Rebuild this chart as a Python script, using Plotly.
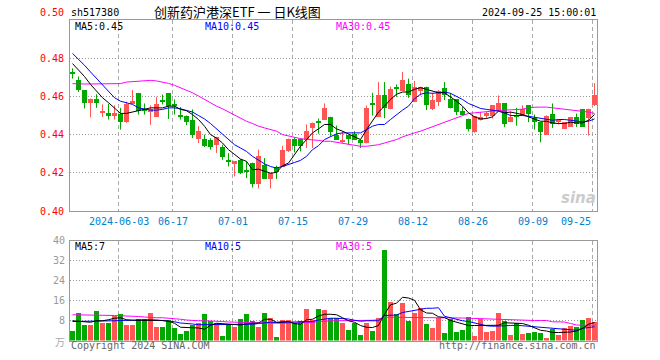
import plotly.graph_objects as go

W, H = 660, 360

# ---------------- data ----------------
opens = [0.4727,0.4684,0.4632,0.4565,0.4586,0.4516,0.4511,0.4500,0.4509,0.4465,
         0.4565,0.4616,0.4535,0.4519,0.4493,0.4578,0.4616,0.4556,0.4498,0.4496,
         0.4474,0.4379,0.4379,0.4374,0.4347,0.4333,0.4268,0.4246,0.4268,0.4209,
         0.4253,0.4140,0.4242,0.4170,0.4230,0.4230,0.4312,0.4379,0.4379,0.4374,
         0.4432,0.4465,0.4477,0.4493,0.4400,0.4365,0.4400,0.4404,0.4374,0.4354,
         0.4563,0.4493,0.4605,0.4532,0.4642,0.4628,0.4663,0.4570,0.4628,0.4651,
         0.4532,0.4572,0.4642,0.4584,0.4584,0.4523,0.4484,0.4414,0.4474,0.4496,
         0.4500,0.4526,0.4563,0.4465,0.4505,0.4500,0.4553,0.4488,0.4465,0.4400,
         0.4510,0.4465,0.4430,0.4440,0.4493,0.4532,0.4488,0.4553]
highs = [0.4747,0.4704,0.4634,0.4588,0.4611,0.4558,0.4561,0.4553,0.4540,0.4572,
         0.4633,0.4618,0.4563,0.4553,0.4598,0.4610,0.4618,0.4584,0.4544,0.4500,
         0.4532,0.4444,0.4400,0.4381,0.4388,0.4347,0.4303,0.4260,0.4272,0.4260,
         0.4253,0.4321,0.4277,0.4198,0.4237,0.4342,0.4379,0.4386,0.4379,0.4453,
         0.4463,0.4484,0.4563,0.4493,0.4447,0.4418,0.4400,0.4418,0.4374,0.4553,
         0.4619,0.4675,0.4675,0.4651,0.4663,0.4728,0.4693,0.4681,0.4651,0.4651,
         0.4619,0.4633,0.4675,0.4616,0.4584,0.4544,0.4484,0.4496,0.4519,0.4519,
         0.4554,0.4605,0.4563,0.4519,0.4540,0.4553,0.4553,0.4505,0.4465,0.4500,
         0.4563,0.4482,0.4465,0.4493,0.4510,0.4532,0.4535,0.4670]
lows = [0.4693,0.4623,0.4537,0.4491,0.4540,0.4493,0.4479,0.4479,0.4426,0.4461,
        0.4558,0.4505,0.4505,0.4451,0.4493,0.4558,0.4482,0.4505,0.4479,0.4449,
        0.4382,0.4356,0.4335,0.4321,0.4304,0.4268,0.4233,0.4181,0.4193,0.4172,
        0.4123,0.4118,0.4170,0.4118,0.4167,0.4230,0.4309,0.4307,0.4312,0.4330,
        0.4330,0.4405,0.4477,0.4391,0.4374,0.4356,0.4347,0.4374,0.4330,0.4354,
        0.4500,0.4493,0.4486,0.4532,0.4598,0.4628,0.4593,0.4570,0.4605,0.4528,
        0.4528,0.4549,0.4581,0.4537,0.4502,0.4502,0.4416,0.4410,0.4474,0.4484,
        0.4484,0.4526,0.4439,0.4465,0.4447,0.4500,0.4465,0.4426,0.4360,0.4400,
        0.4435,0.4453,0.4430,0.4440,0.4440,0.4440,0.4395,0.4549]
closes = [0.4722,0.4632,0.4565,0.4586,0.4565,0.4523,0.4502,0.4512,0.4465,0.4561,
          0.4575,0.4526,0.4525,0.4535,0.4561,0.4575,0.4549,0.4551,0.4496,0.4465,
          0.4400,0.4421,0.4342,0.4333,0.4388,0.4281,0.4254,0.4260,0.4198,0.4205,
          0.4140,0.4289,0.4170,0.4198,0.4202,0.4321,0.4379,0.4342,0.4342,0.4421,
          0.4463,0.4461,0.4540,0.4412,0.4374,0.4374,0.4379,0.4374,0.4354,0.4540,
          0.4558,0.4605,0.4540,0.4640,0.4640,0.4684,0.4605,0.4651,0.4651,0.4554,
          0.4581,0.4628,0.4605,0.4537,0.4519,0.4502,0.4430,0.4496,0.4493,0.4514,
          0.4554,0.4563,0.4453,0.4493,0.4493,0.4535,0.4510,0.4465,0.4412,0.4500,
          0.4453,0.4479,0.4465,0.4493,0.4453,0.4440,0.4535,0.4605]

ma5 = [0.4772,0.4739,0.4704,0.4663,0.4628,0.4593,0.4567,0.4540,0.4511,0.4511,
       0.4518,0.4525,0.4532,0.4540,0.4540,0.4540,0.4549,0.4549,0.4532,0.4525,
       0.4505,0.4479,0.4444,0.4400,0.4382,0.4356,0.4321,0.4295,0.4272,0.4260,
       0.4216,0.4219,0.4207,0.4198,0.4202,0.4237,0.4251,0.4295,0.4339,0.4374,
       0.4409,0.4430,0.4453,0.4453,0.4430,0.4418,0.4404,0.4388,0.4374,0.4426,
       0.4474,0.4518,0.4549,0.4584,0.4611,0.4623,0.4623,0.4637,0.4646,0.4637,
       0.4625,0.4619,0.4619,0.4598,0.4575,0.4549,0.4514,0.4493,0.4482,0.4484,
       0.4493,0.4523,0.4514,0.4518,0.4511,0.4505,0.4493,0.4482,0.4470,0.4470,
       0.4461,0.4458,0.4458,0.4465,0.4461,0.4461,0.4475,0.4505]
ma10 = [0.4825,0.4795,0.4763,0.4728,0.4693,0.4658,0.4623,0.4593,0.4575,0.4567,
        0.4558,0.4540,0.4532,0.4528,0.4528,0.4532,0.4540,0.4540,0.4535,0.4528,
        0.4518,0.4500,0.4482,0.4458,0.4430,0.4400,0.4374,0.4347,0.4330,0.4312,
        0.4286,0.4265,0.4247,0.4233,0.4225,0.4233,0.4242,0.4254,0.4265,0.4286,
        0.4321,0.4342,0.4374,0.4391,0.4404,0.4409,0.4409,0.4409,0.4409,0.4426,
        0.4444,0.4453,0.4453,0.4479,0.4505,0.4528,0.4549,0.4588,0.4611,0.4619,
        0.4616,0.4619,0.4623,0.4616,0.4602,0.4584,0.4563,0.4549,0.4537,0.4532,
        0.4528,0.4523,0.4514,0.4500,0.4500,0.4500,0.4496,0.4491,0.4484,0.4479,
        0.4475,0.4479,0.4479,0.4475,0.4470,0.4467,0.4470,0.4482]
ma30 = [0.4667,0.4665,0.4665,0.4665,0.4665,0.4665,0.4665,0.4665,0.4667,0.4675,
        0.4678,0.4681,0.4684,0.4684,0.4681,0.4675,0.4668,0.4658,0.4646,0.4633,
        0.4619,0.4602,0.4584,0.4567,0.4549,0.4535,0.4518,0.4500,0.4484,0.4470,
        0.4458,0.4444,0.4435,0.4426,0.4418,0.4400,0.4391,0.4386,0.4379,0.4374,
        0.4372,0.4370,0.4365,0.4365,0.4360,0.4356,0.4351,0.4346,0.4339,0.4339,
        0.4342,0.4347,0.4356,0.4365,0.4374,0.4388,0.4400,0.4409,0.4418,0.4430,
        0.4440,0.4453,0.4465,0.4479,0.4491,0.4502,0.4511,0.4514,0.4518,0.4521,
        0.4523,0.4526,0.4528,0.4530,0.4530,0.4533,0.4542,0.4544,0.4544,0.4544,
        0.4540,0.4537,0.4535,0.4532,0.4528,0.4523,0.4518,0.4511]

volume = [3.9,11.1,6.3,6.5,11.9,7.1,7.1,9.9,10.7,6.3,
          6.3,8.7,8.9,11.1,5.5,5.7,8.4,5.1,2.8,4.1,
          6.4,7.2,10.9,8.1,7.2,2.1,7.0,5.5,8.8,10.7,
          7.9,5.5,11.1,9.1,1.6,8.3,8.3,7.3,7.9,12.7,
          8.3,12.7,12.3,9.1,9.1,7.1,4.3,7.1,2.3,7.1,
          3.9,9.1,36.3,15.5,10.7,15.1,7.9,11.1,13.1,6.7,
          5.1,9.1,3.1,8.7,3.5,4.3,9.5,1.9,8.8,3.7,
          4.1,11.3,8.1,2.5,7.2,2.9,3.3,3.7,3.3,1.3,
          4.8,2.5,5.3,6.0,5.7,8.5,9.1,7.5]
vma5 = [7.9,7.6,7.4,7.3,7.9,7.9,8.3,8.9,9.1,8.3,
        8.1,8.1,8.1,8.3,8.1,8.0,7.7,6.9,5.3,5.2,
        5.4,5.0,4.5,6.1,6.9,6.7,6.8,6.3,6.2,6.7,
        6.8,7.0,8.5,8.5,7.3,7.6,7.6,6.8,6.5,8.3,
        8.5,9.8,10.5,10.5,10.3,9.1,7.9,7.3,6.0,5.3,
        5.2,6.0,10.5,14.3,14.9,17.3,17.0,16.1,12.3,11.0,
        10.9,9.5,9.2,8.0,7.3,6.7,6.0,6.0,6.0,6.0,
        6.0,6.1,7.1,7.1,7.0,6.8,6.1,5.2,4.1,3.8,
        3.2,3.2,3.2,3.4,3.8,4.8,6.5,7.2]
vma10 = [7.6,7.6,7.7,7.7,7.8,7.9,7.9,7.9,8.0,8.1,
         8.2,8.3,8.3,8.3,8.2,8.0,7.9,7.5,7.0,6.9,
         6.6,6.3,6.3,6.3,6.3,6.2,6.2,6.3,6.4,6.4,
         6.5,6.8,7.1,7.3,7.2,7.3,7.3,7.4,7.5,7.6,
         7.6,8.2,8.6,8.9,8.9,8.9,8.6,8.1,7.7,7.9,
         7.8,7.9,10.0,10.0,10.2,11.2,11.7,11.9,12.6,12.9,
         12.9,13.1,9.7,9.1,8.3,7.9,7.6,7.0,6.2,5.9,
         5.7,5.7,5.7,6.0,6.1,5.9,5.5,5.3,5.0,4.8,
         4.8,4.6,4.2,4.1,4.1,4.9,5.2,5.5]
vma30 = [10.3,10.3,10.2,10.2,10.2,10.1,10.1,10.0,9.9,9.9,
         9.9,9.6,9.4,9.1,9.1,9.1,9.0,8.8,8.5,8.2,
         7.9,7.9,7.9,7.9,7.8,7.6,7.4,7.3,7.3,7.3,
         7.2,7.0,6.9,6.9,6.9,6.9,6.9,6.9,6.9,6.9,
         7.2,7.6,7.9,7.9,7.9,7.9,7.9,7.9,7.9,7.9,
         8.1,8.3,9.3,9.3,9.3,9.3,9.3,9.3,9.3,9.3,
         9.3,9.3,9.2,9.2,9.1,9.0,8.9,8.8,8.7,8.7,
         8.6,8.4,8.4,8.2,8.0,8.0,8.0,8.0,8.0,8.0,
         7.5,7.5,7.4,6.8,6.2,6.1,6.1,6.1]

date_tick_labels = ["2024-06-03", "06-17", "07-01", "07-15", "07-29",
                    "08-12", "08-26", "09-09", "09-25"]
date_tick_index = [8, 17, 27, 37, 47, 57, 67, 77, 87]
price_ticks = [0.40, 0.42, 0.44, 0.46, 0.48, 0.50]
volume_ticks = [8, 16, 24, 32, 40]

symbol = "sh517380"
title = "创新药沪港深ETF 一 日K线图"
timestamp = "2024-09-25 15:00:01"
price_ma_labels = ["MA5:0.45", "MA10:0.45", "MA30:0.45"]
volume_ma_labels = ["MA5:7", "MA10:5", "MA30:5"]

# ---------------- styling ----------------
RED = "#ff5555"
GREEN = "#00a800"
MONO = "DejaVu Sans Mono, Liberation Mono, monospace"
GRIDC = "#aaaaaa"
FRAMEC = "#999999"

n = len(closes)
xs = list(range(n))
up = [c >= o for o, c in zip(opens, closes)]
cols = [RED if u else GREEN for u in up]

fig = go.Figure()

# wicks
for color, flag in ((RED, True), (GREEN, False)):
    wx, wy = [], []
    for i in xs:
        if up[i] == flag:
            wx += [i, i, None]
            wy += [lows[i], highs[i], None]
    fig.add_trace(go.Scatter(x=wx, y=wy, mode="lines", line=dict(color=color, width=1),
                             hoverinfo="skip", xaxis="x", yaxis="y"))

# bodies
body_base = [min(o, c) for o, c in zip(opens, closes)]
body_h = [max(abs(c - o), 0.0005) for o, c in zip(opens, closes)]
fig.add_trace(go.Bar(x=xs, y=body_h, base=body_base, width=0.8,
                     marker=dict(color=cols, line=dict(width=0)), xaxis="x", yaxis="y"))

# price MAs
for arr, c in ((ma30, "#ff00ff"), (ma10, "#0000ff"), (ma5, "#000000")):
    fig.add_trace(go.Scatter(x=xs, y=arr, mode="lines", line=dict(color=c, width=1),
                             xaxis="x", yaxis="y"))

# volume
fig.add_trace(go.Bar(x=xs, y=volume, width=0.8, marker=dict(color=cols, line=dict(width=0)),
                     xaxis="x2", yaxis="y2"))
for arr, c in ((vma30, "#ff00ff"), (vma10, "#0000ff"), (vma5, "#000000")):
    fig.add_trace(go.Scatter(x=xs, y=arr, mode="lines", line=dict(color=c, width=1),
                             xaxis="x2", yaxis="y2"))

# ---------------- layout ----------------
PL, PR = 70, 597
x0 = -2.5 / 6
xrange = [x0, x0 + (PR - PL) / 6]
grid_x = [i - 1 / 3 for i in date_tick_index]

def px(x):
    return x / W

def py(y):
    return 1 - y / H

xcommon = dict(range=xrange, domain=[px(PL), px(PR)], tickvals=grid_x, showticklabels=False,
               showgrid=True, gridcolor=GRIDC, griddash="4px,3px", gridwidth=1,
               showline=True, mirror=True, linecolor=FRAMEC, linewidth=1, zeroline=False,
               ticks="", fixedrange=True)
fig.update_layout(
    width=W, height=H, margin=dict(l=0, r=0, t=0, b=0),
    paper_bgcolor="white", plot_bgcolor="white", showlegend=False,
    barmode="overlay", bargap=0,
    xaxis=dict(anchor="y", **xcommon),
    xaxis2=dict(anchor="y2", **xcommon),
    yaxis=dict(domain=[py(211), py(20)], range=[0.40, 0.50], tickvals=price_ticks[1:-1],
               showticklabels=False, showgrid=True, gridcolor="#999999", griddash="1px,2px",
               showline=True, mirror=True, linecolor=FRAMEC, linewidth=1, zeroline=False,
               ticks="", fixedrange=True),
    yaxis2=dict(domain=[py(340.5), py(240.5)], range=[0, 40], tickvals=volume_ticks[:-1],
                showticklabels=False, showgrid=True, gridcolor="#999999", griddash="1px,2px",
                showline=True, mirror=True, linecolor=FRAMEC, linewidth=1, zeroline=False,
                ticks="", fixedrange=True),
)

ann = []

def text(x, y, s, color="#000", size=10, xanchor="left", family=MONO, **kw):
    ann.append(dict(x=px(x), y=py(y), xref="paper", yref="paper", text=s, showarrow=False,
                    xanchor=xanchor, yanchor="middle", borderpad=0,
                    font=dict(family=family, size=size, color=color), **kw))

# header
text(70, 13, symbol)
text(237.5, 11.5, title, size=13, xanchor="center",
     family="Noto Sans CJK SC, DejaVu Sans Mono, sans-serif")
text(597, 13, timestamp, xanchor="right")

# MA labels
for lab, xx, c in zip(price_ma_labels, (74, 204, 334.5), ("#000000", "#0000ff", "#ff00ff")):
    text(xx, 26.5, lab, color=c)
for lab, xx, c in zip(volume_ma_labels, (74, 204, 334.5), ("#000000", "#0000ff", "#ff00ff")):
    text(xx, 246.5, lab, color=c)

# price y labels
for v in price_ticks:
    ann.append(dict(x=px(66), xref="paper", y=v, yref="y", text=f"{v:.2f}", showarrow=False,
                    xanchor="right", yanchor="middle", yshift=8 if v == price_ticks[-1] else 0,
                    font=dict(family=MONO, size=10, color="#ff0000")))
# volume y labels
for v in volume_ticks:
    ann.append(dict(x=px(66.5), xref="paper", y=v, yref="y2", text=str(v), showarrow=False,
                    xanchor="right", yanchor="middle",
                    font=dict(family=MONO, size=10, color="#999999")))
text(65.5, 341, "万", color="#aaaaaa", size=10, xanchor="right",
     family="Noto Sans CJK SC, sans-serif")

# date labels
for lab, i in zip(date_tick_labels, date_tick_index):
    last = lab == date_tick_labels[-1]
    ann.append(dict(x=i - 1 / 3, xref="x", y=py(221), yref="paper", text=lab, showarrow=False,
                    xanchor="right" if last else "center", yanchor="middle",
                    font=dict(family=MONO, size=10, color="#0080d0")))

# footer
text(70, 345.5, "Copyright 2024 SINA.COM", color="#666666")
text(597, 345.5, "http://finance.sina.com.cn", color="#666666", xanchor="right")

# watermark
text(578, 198, "<b><i>sina</i></b>", color="#cccccc", size=15, xanchor="center",
     family="DejaVu Sans, sans-serif")

fig.update_layout(annotations=ann)
fig.write_html("out.html", config={"displayModeBar": False},
               post_script="document.body.style.margin='0';document.body.style.overflow='hidden';")
